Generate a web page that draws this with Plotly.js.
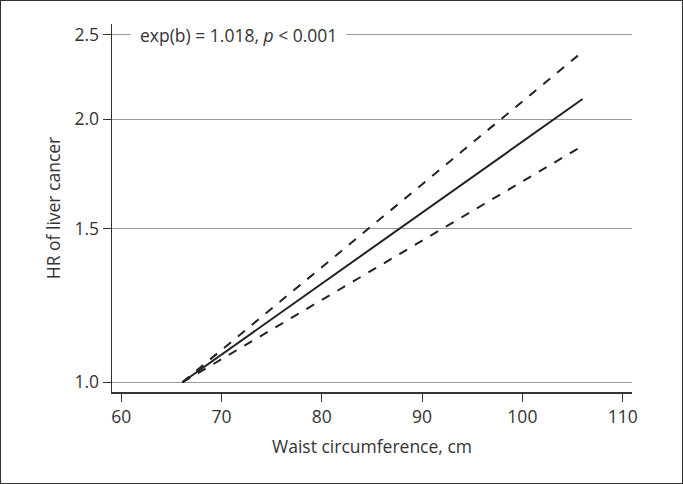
<!DOCTYPE html>
<html>
<head>
<meta charset="utf-8">
<script src="https://cdn.plot.ly/plotly-3.0.1.min.js"></script>
<style>
  body { margin: 0; background: #fff; }
  #chart { width: 681px; height: 482px; border: 1px solid #333; }
</style>
</head>
<body>
<div id="chart"></div>
<script>
// waist circumference (cm) and hazard ratios
const waist = [66.1, 106];
const hrFit = [1.0, 2.11];
const hrUpper = [1.0, 2.39];
const hrLower = [1.0, 1.865];

const yTicks = [1.0, 1.5, 2.0, 2.5];
const yTickText = ["1.0", "1.5", "2.0", "2.5"];
const xTicks = [60, 70, 80, 90, 100, 110];

const fontFam = "'Open Sans', 'Noto Sans', sans-serif";
const fs = 17.5;

const data = [
    { x: waist, y: hrUpper, type: "scatter", mode: "lines",
      line: { color: "#222", width: 2, dash: "dash" }, hoverinfo: "skip" },
    { x: waist, y: hrLower, type: "scatter", mode: "lines",
      line: { color: "#222", width: 2, dash: "dash" }, hoverinfo: "skip" },
    { x: waist, y: hrFit, type: "scatter", mode: "lines",
      line: { color: "#222", width: 2 }, hoverinfo: "skip" },
];

const layout = {
    width: 681,
    height: 482,
    margin: { l: 110.5, r: 50, t: 23.3, b: 91.3 },
    paper_bgcolor: "#fff",
    plot_bgcolor: "#fff",
    showlegend: false,
    font: { family: fontFam, size: fs, color: "#333" },
    xaxis: {
        range: [59.08, 110.93],
        tickvals: xTicks,
        ticks: "outside",
        ticklen: 8,
        tickcolor: "#333",
        showgrid: false,
        zeroline: false,
        showline: true,
        linecolor: "#333",
        linewidth: 1.5,
        tickfont: { size: fs, color: "#333" },
        title: { text: "Waist circumference, cm", font: { size: fs, color: "#333" }, standoff: 14 },
    },
    yaxis: {
        type: "log",
        range: [-0.0111, 0.4102],
        tickvals: yTicks,
        ticktext: yTickText,
        ticks: "outside",
        ticklen: 8,
        tickcolor: "#333",
        showgrid: true,
        gridcolor: "#999",
        gridwidth: 1.2,
        zeroline: false,
        showline: true,
        linecolor: "#333",
        linewidth: 1.5,
        tickfont: { size: fs, color: "#333" },
        title: { text: "HR of liver cancer", font: { size: fs, color: "#333" }, standoff: 9 },
    },
    annotations: [{
        xref: "x", yref: "y",
        x: 60.85, y: Math.log10(2.5),
        xanchor: "left", yanchor: "middle",
        text: "exp(b) = 1.018, <i>p</i> < 0.001",
        showarrow: false,
        bgcolor: "#fff",
        borderpad: 9,
        font: { size: fs, color: "#333" },
    }],
};

Plotly.newPlot("chart", data, layout, { displayModeBar: false, staticPlot: true });
</script>
</body>
</html>
